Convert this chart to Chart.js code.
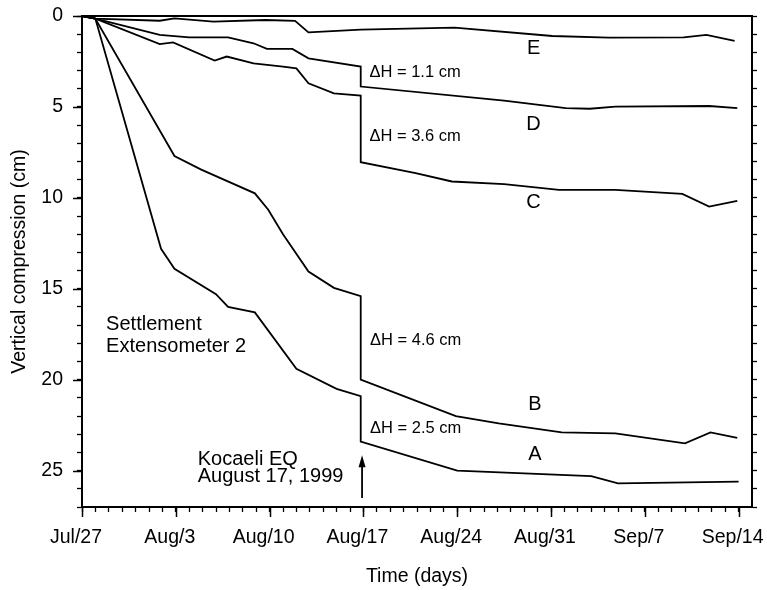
<!DOCTYPE html>
<html><head><meta charset="utf-8">
<script src="https://cdn.jsdelivr.net/npm/chart.js@4"></script>
<style>html,body{margin:0;padding:0;background:#fff}#wrap{width:767px;height:590px}</style>
</head><body><div id="wrap"><canvas id="c" width="767" height="590"></canvas></div>
<script>
// ---- tick labels ----
const weekDays = [0, 7, 14, 21, 28, 35, 42, 49];
const weekLabels = ['Jul/27', 'Aug/3', 'Aug/10', 'Aug/17', 'Aug/24', 'Aug/31', 'Sep/7', 'Sep/14'];
const yMajorTicks = [0, 5, 10, 15, 20, 25];

// ---- series (day since Jul/27, vertical compression cm) ----
const aDays   = [0, 1, 5.9, 6.9, 10.0, 10.9, 12.9, 16.0, 19.0, 20.8, 20.8, 28.0, 38.0, 40.0, 49.0];
const aValues = [0, 0.15, 12.8, 13.9, 15.3, 16.0, 16.3, 19.4, 20.5, 20.9, 23.4, 25.0, 25.3, 25.7, 25.6];

const bDays   = [0, 1, 6.9, 8.9, 12.9, 13.9, 15.0, 16.9, 18.8, 20.8, 20.8, 27.9, 31.1, 35.8, 39.8, 45.0, 46.9, 48.9];
const bValues = [0, 0.15, 7.7, 8.45, 9.75, 10.65, 12.0, 14.05, 14.95, 15.4, 20.0, 22.0, 22.4, 22.9, 22.95, 23.5, 22.9, 23.2];

const cDays   = [0, 1, 5.8, 6.8, 9.9, 10.8, 12.8, 15.0, 16.0, 16.9, 18.8, 20.8, 20.8, 24.9, 27.6, 31.5, 35.6, 39.8, 44.8, 46.8, 48.9];
const cValues = [0, 0.15, 1.55, 1.45, 2.45, 2.23, 2.6, 2.78, 2.88, 3.7, 4.25, 4.38, 8.04, 8.64, 9.1, 9.25, 9.56, 9.56, 9.78, 10.48, 10.16];

const dDays   = [0, 1, 5.8, 8.0, 10.9, 12.8, 13.8, 15.7, 16.9, 20.8, 20.8, 31.5, 36.1, 37.9, 39.8, 46.8, 48.9];
const dValues = [0, 0.15, 1.04, 1.17, 1.17, 1.5, 1.81, 1.81, 2.33, 2.78, 3.88, 4.65, 5.07, 5.1, 4.98, 4.95, 5.07];

const eDays   = [0, 1, 5.8, 6.9, 9.8, 13.7, 15.9, 16.9, 20.8, 27.8, 35.1, 39.3, 44.9, 46.6, 48.7];
const eValues = [0, 0.15, 0.26, 0.13, 0.31, 0.22, 0.27, 0.9, 0.75, 0.64, 1.1, 1.19, 1.17, 1.04, 1.37];

const seriesNames = ['A', 'B', 'C', 'D', 'E'];
const seriesDays = [aDays, bDays, cDays, dDays, eDays];
const seriesValues = [aValues, bValues, cValues, dValues, eValues];

// ---- annotations (data coordinates) ----
const notes = [
  {text: '\u0394H = 1.1 cm', x: 21.45, y: 3.13, size: 16.5, align: 'left'},
  {text: '\u0394H = 3.6 cm', x: 21.45, y: 6.65, size: 16.5, align: 'left'},
  {text: '\u0394H = 4.6 cm', x: 21.5, y: 17.86, size: 16.5, align: 'left'},
  {text: '\u0394H = 2.5 cm', x: 21.5, y: 22.7, size: 16.5, align: 'left'},
  {text: 'Settlement', x: 1.8, y: 16.98, size: 20, align: 'left'},
  {text: 'Extensometer 2', x: 1.8, y: 18.19, size: 20, align: 'left'},
  {text: 'Kocaeli EQ', x: 8.64, y: 24.4, size: 20, align: 'left'},
  {text: 'August 17, 1999', x: 8.64, y: 25.33, size: 20, align: 'left'},
  {text: 'E', x: 33.7, y: 1.81, size: 20, align: 'center'},
  {text: 'D', x: 33.7, y: 5.99, size: 20, align: 'center'},
  {text: 'C', x: 33.7, y: 10.27, size: 20, align: 'center'},
  {text: 'B', x: 33.8, y: 21.37, size: 20, align: 'center'},
  {text: 'A', x: 33.8, y: 24.12, size: 20, align: 'center'}
];
const arrowX = 20.9, arrowFrom = 26.5, arrowTo = 24.15;

const FONT = '"Liberation Sans", Arial, Helvetica, sans-serif';
const range = (a, b) => { const r = []; for (let i = a; i <= b; i++) r.push(i); return r; };

const datasets = seriesNames.map((n, i) => ({
  label: n,
  data: seriesDays[i].map((d, k) => ({x: d, y: seriesValues[i][k]})),
  borderColor: '#000',
  borderWidth: 1.8,
  pointRadius: 0,
  tension: 0,
  fill: false
}));

const extras = {
  id: 'extras',
  afterDraw(chart) {
    const ctx = chart.ctx, xs = chart.scales.x, ys = chart.scales.y, ca = chart.chartArea;
    ctx.save();
    ctx.strokeStyle = '#000';
    // top frame
    ctx.lineWidth = 2;
    ctx.beginPath(); ctx.moveTo(ca.left - 1, ca.top); ctx.lineTo(ca.right + 1, ca.top); ctx.stroke();
    // major ticks
    ctx.lineWidth = 1.5;
    weekDays.forEach(d => {
      const px = Math.round(xs.getPixelForValue(d)) + 0.5;
      ctx.beginPath(); ctx.moveTo(px, ca.bottom); ctx.lineTo(px, ca.bottom + 10); ctx.stroke();
    });
    yMajorTicks.forEach(v => {
      const py = Math.round(ys.getPixelForValue(v)) + 0.5;
      ctx.beginPath(); ctx.moveTo(ca.left, py); ctx.lineTo(ca.left - 9, py); ctx.stroke();
    });
    // arrow
    const ax = xs.getPixelForValue(arrowX);
    const ay1 = ys.getPixelForValue(arrowFrom), ay2 = ys.getPixelForValue(arrowTo);
    ctx.lineWidth = 1.8;
    ctx.beginPath(); ctx.moveTo(ax, ay1); ctx.lineTo(ax, ay2 + 6); ctx.stroke();
    ctx.fillStyle = '#000';
    ctx.beginPath(); ctx.moveTo(ax, ay2); ctx.lineTo(ax - 3.5, ay2 + 12); ctx.lineTo(ax + 3.5, ay2 + 12); ctx.closePath(); ctx.fill();
    // texts
    ctx.textBaseline = 'middle';
    notes.forEach(n => {
      ctx.font = n.size + 'px ' + FONT;
      ctx.textAlign = n.align;
      ctx.fillText(n.text, xs.getPixelForValue(n.x), ys.getPixelForValue(n.y));
    });
    ctx.restore();
  }
};

new Chart(document.getElementById('c'), {
  type: 'line',
  data: {datasets},
  options: {
    responsive: false,
    animation: false,
    devicePixelRatio: 1,
    layout: {padding: {left: 0, right: 0, top: 16, bottom: 0}},
    plugins: {legend: {display: false}, tooltip: {enabled: false}},
    scales: {
      x: {
        type: 'linear', position: 'bottom', min: 0, max: 50,
        afterBuildTicks: s => { s.ticks = range(0, 49).map(v => ({value: v})); },
        afterFit: s => { s.height = 83; s.paddingLeft = 0; s.paddingRight = 0; },
        ticks: {
          autoSkip: false, maxRotation: 0, minRotation: 0, color: '#000', padding: 14, labelOffset: -6,
          font: {family: FONT, size: 19.5},
          callback: v => { const i = weekDays.indexOf(v); return i >= 0 ? weekLabels[i] : ''; }
        },
        grid: {drawOnChartArea: false, tickLength: 5, tickColor: '#000', tickWidth: 1.3},
        border: {color: '#000', width: 2},
        title: {display: true, text: 'Time (days)', color: '#000', font: {family: FONT, size: 19.5}, padding: {top: 0, bottom: 2}}
      },
      y: {
        type: 'linear', position: 'left', min: 0, max: 27, reverse: true,
        afterBuildTicks: s => { s.ticks = range(0, 27).map(v => ({value: v})); },
        afterFit: s => { s.width = 82; s.paddingTop = 0; s.paddingBottom = 0; },
        ticks: {
          autoSkip: false, color: '#000', padding: 14,
          font: {family: FONT, size: 19.5},
          callback: v => yMajorTicks.includes(v) ? String(v) : ''
        },
        grid: {drawOnChartArea: false, tickLength: 5, tickColor: '#000', tickWidth: 1.3},
        border: {color: '#000', width: 2},
        title: {display: true, text: 'Vertical compression (cm)', color: '#000', font: {family: FONT, size: 19.5}, padding: {top: 8, bottom: 0}}
      },
      y2: {
        type: 'linear', position: 'right', min: 0, max: 27, reverse: true,
        afterBuildTicks: s => { s.ticks = range(0, 27).map(v => ({value: v})); },
        afterFit: s => { s.width = 15; s.paddingTop = 0; s.paddingBottom = 0; },
        ticks: {display: false},
        grid: {drawOnChartArea: false, tickLength: 5, tickColor: '#000', tickWidth: 1.3},
        border: {color: '#000', width: 2}
      }
    }
  },
  plugins: [extras]
});
</script>
</body></html>
